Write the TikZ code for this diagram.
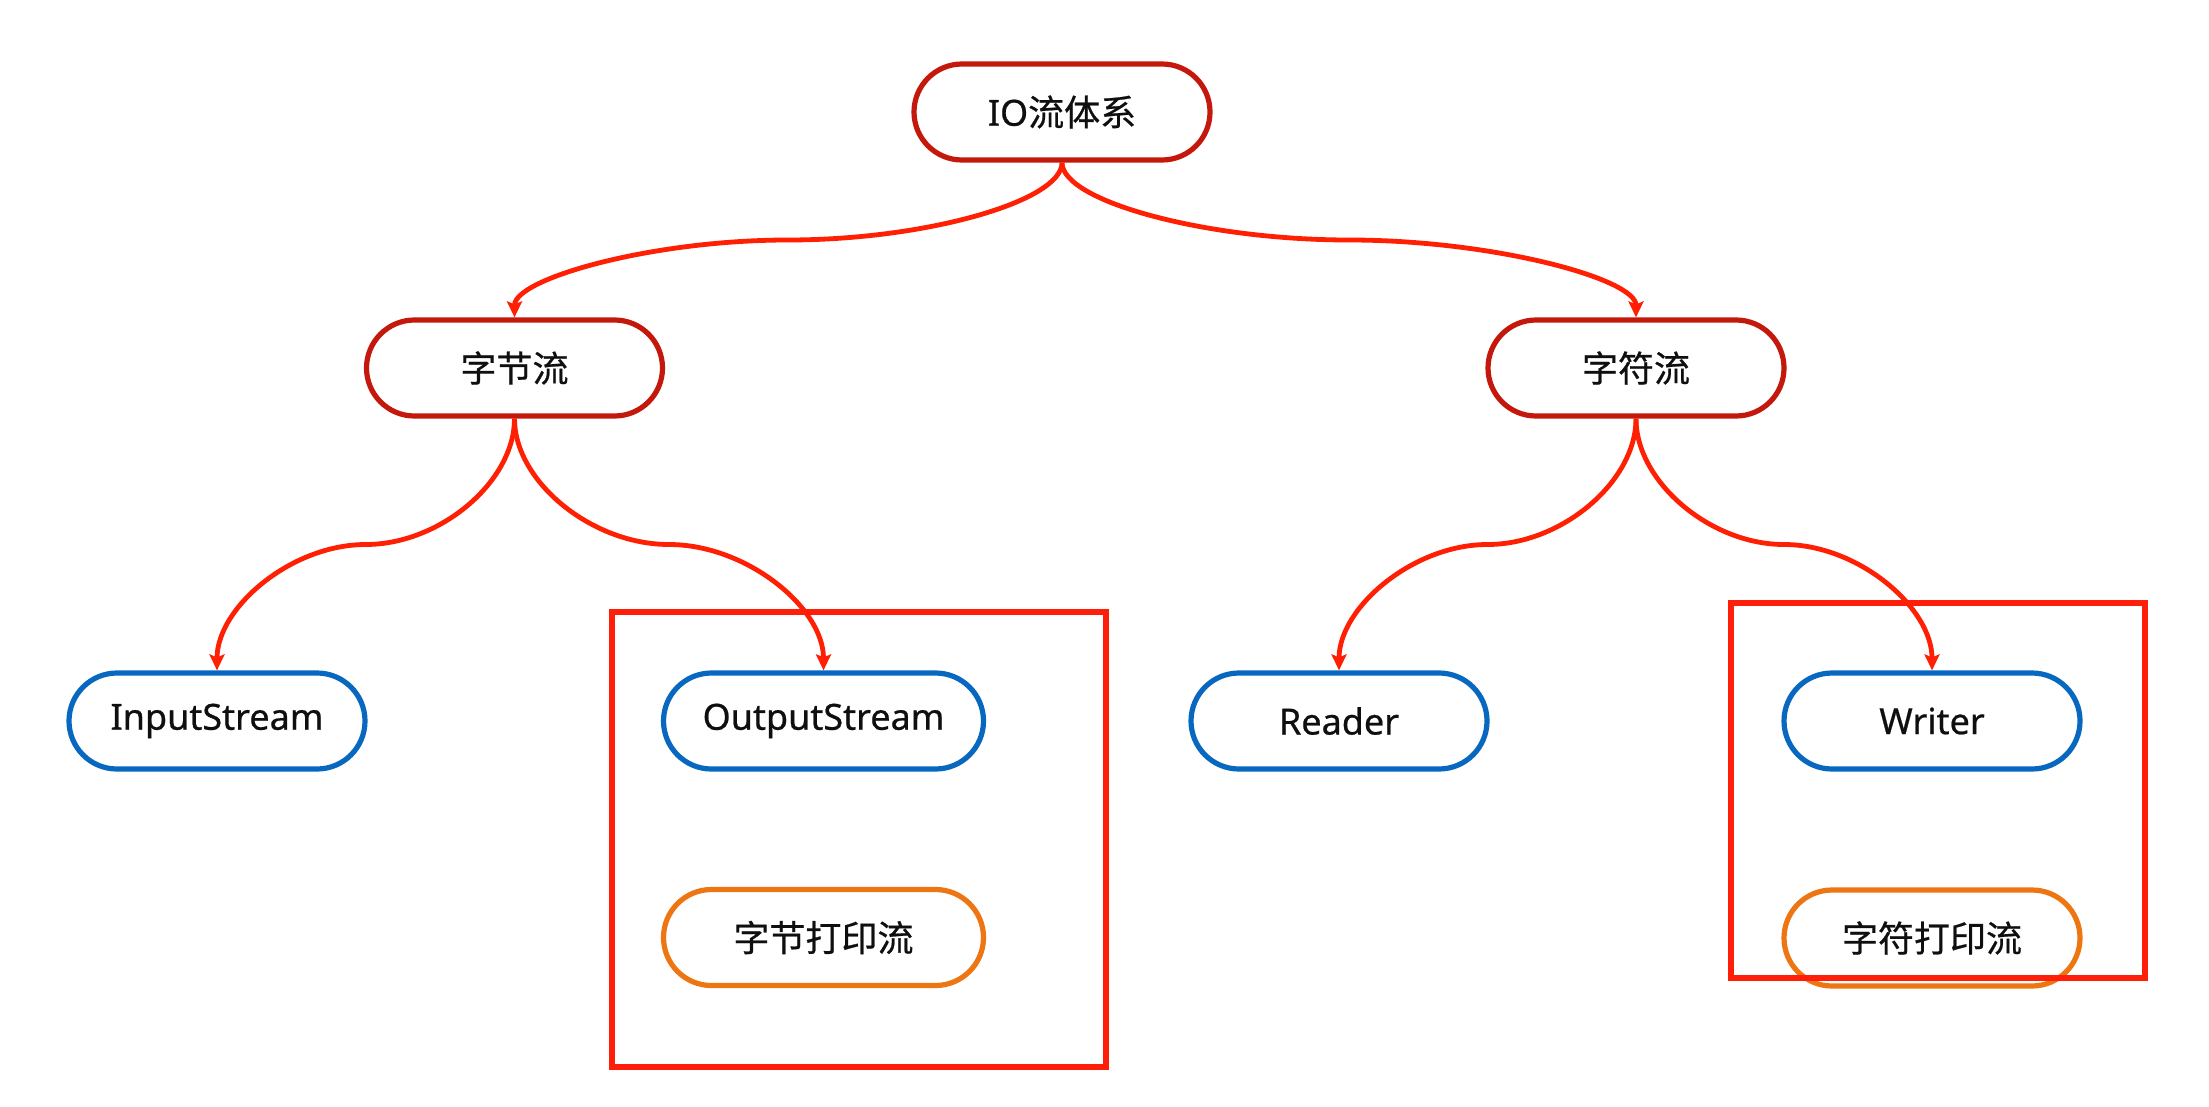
\documentclass[tikz,border=0pt]{standalone}
\usepackage{fontspec}
\setmainfont{Noto Sans}[FakeBold=0.6]
\newfontfamily\cjk{Noto Sans CJK SC}[FakeBold=0.6]
\usetikzlibrary{arrows.meta,calc}
\definecolor{nodered}{RGB}{196,24,12}
\definecolor{linered}{RGB}{255,32,4}
\definecolor{boxred}{RGB}{255,30,10}
\definecolor{nodeblue}{RGB}{8,104,192}
\definecolor{nodeorange}{RGB}{238,118,18}
\definecolor{txt}{RGB}{15,15,15}
\tikzset{
  pill/.style={draw, line width=2.6pt, rounded corners=24pt, fill=white,
    minimum height=48pt, inner sep=0pt, text=txt,
    font=\fontsize{18}{21}\selectfont},
  rootnode/.style={pill, draw=nodered, minimum width=148pt},
  leafnode/.style={pill, draw=nodeblue, minimum width=148pt},
  printnode/.style={pill, draw=nodeorange, minimum width=148pt},
  framebox/.style={draw=boxred, line width=2.6pt},
  conn/.style={draw=linered, line width=2.4pt,
    -{Stealth[length=8pt,width=7.5pt,inset=1.5pt]}},
  elbow/.style={to path={
    let \p1=(\tikztostart), \p2=(\tikztotarget),
        \p3=($(\p1)!0.5!(\p2)$) in
    .. controls (\x1,{\y1+0.5*(\y3-\y1)}) and ({\x3+0.5*(\x1-\x3)},\y3) .. (\p3)
    .. controls ({\x3+0.5*(\x2-\x3)},\y3) and (\x2,{\y2+0.5*(\y3-\y2)}) .. (\p2)
    \tikztonodes}}
}
\begin{document}
\begin{tikzpicture}[x=0.5pt,y=-0.5pt]
\useasboundingbox[fill=white] (0,0) rectangle (2209,1107);

% frames
\draw[framebox] (612,612) rectangle (1106,1067);
\draw[framebox] (1731,603) rectangle (2145,978);

% nodes
\node[rootnode] (io) at (1062,112) {IO{\cjk 流体系}};
\node[rootnode] (byte) at (514.5,368) {\cjk 字节流};
\node[rootnode] (char) at (1636,368) {\cjk 字符流};
\node[leafnode] (in) at (217,721) {InputStream};
\node[leafnode, minimum width=160pt] (out) at (823.5,721) {OutputStream};
\node[printnode, minimum width=160pt] (bprint) at (823.5,937.5) {\cjk 字节打印流};
\node[leafnode] (reader) at (1339,721) {Reader};
\node[leafnode] (writer) at (1932,721) {Writer};
\node[printnode] (cprint) at (1932,938) {\cjk 字符打印流};

% connectors
\draw[conn] (io.south) to[elbow] (byte.north);
\draw[conn] (io.south) to[elbow] (char.north);
\draw[conn] (byte.south) to[elbow] (in.north);
\draw[conn] (byte.south) to[elbow] (out.north);
\draw[conn] (char.south) to[elbow] (reader.north);
\draw[conn] (char.south) to[elbow] (writer.north);

% the right frame's bottom edge runs over the orange pill
\draw[framebox] (1731,978) -- (2145,978);
\end{tikzpicture}
\end{document}
